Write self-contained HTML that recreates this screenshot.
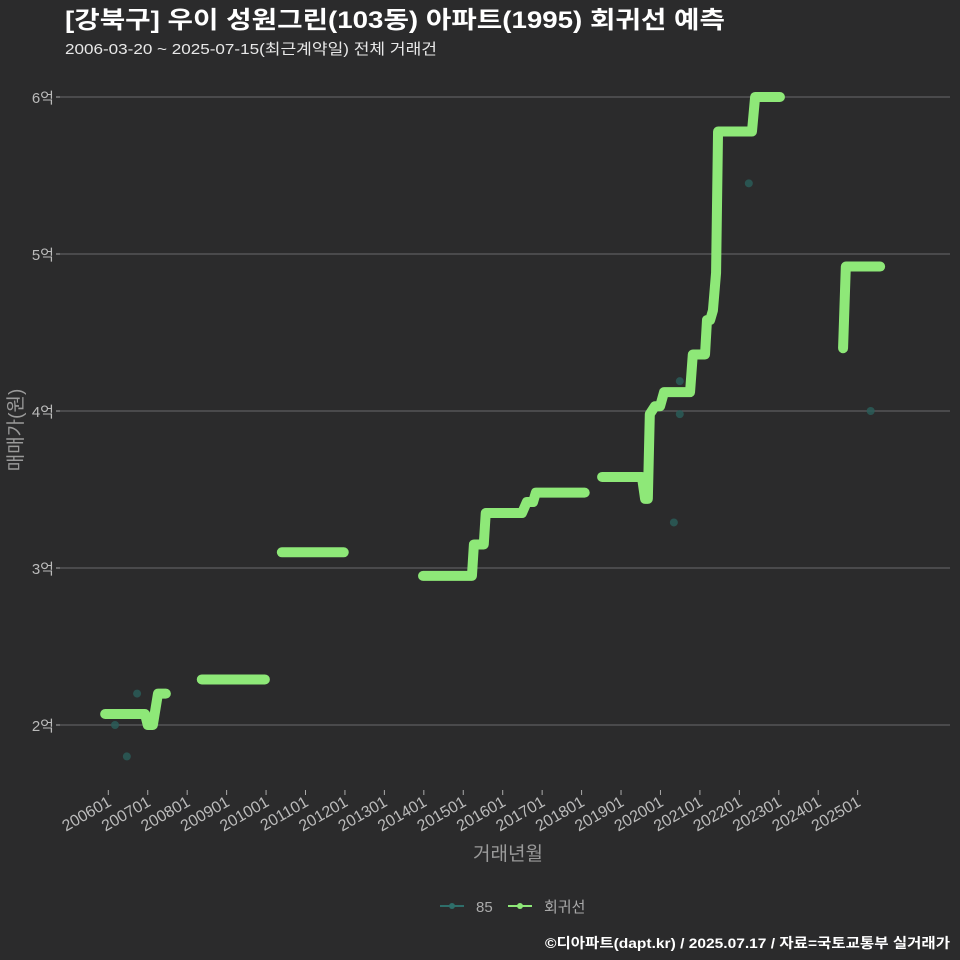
<!DOCTYPE html>
<html><head><meta charset="utf-8">
<style>
html,body{margin:0;padding:0;background:#2b2b2c;}
svg{display:block;font-family:"Liberation Sans","Noto Sans CJK KR",sans-serif;}
</style></head>
<body>
<svg id="chart" width="960" height="960" viewBox="0 0 960 960">
<rect width="960" height="960" fill="#2b2b2c"/>
<text x="65" y="28" fill="#ffffff" font-size="24" font-weight="bold" textLength="660" lengthAdjust="spacingAndGlyphs">[강북구] 우이 성원그린(103동) 아파트(1995) 회귀선 예측</text>
<text x="65" y="54" fill="#e8e8e8" font-size="15" textLength="372" lengthAdjust="spacingAndGlyphs">2006-03-20 ~ 2025-07-15(최근계약일) 전체 거래건</text>
<g id="grid"></g>
<g id="xaxis"></g>
<g id="dots"></g>
<g id="lines"></g>
<text transform="translate(22,430) rotate(-90)" text-anchor="middle" fill="#9a9a9a" font-size="19">매매가(원)</text>
<text x="508" y="860" text-anchor="middle" fill="#9a9a9a" font-size="19">거래년월</text>
<g>
<g>
<line x1="440" y1="906" x2="464" y2="906" stroke="#2e6e6a" stroke-width="2"/>
<circle cx="452" cy="906" r="3" fill="#2e6e6a"/>
<text x="476" y="912" fill="#aaaaaa" font-size="15">85</text></g>
<g>
<line x1="508" y1="906" x2="532" y2="906" stroke="#8ee878" stroke-width="2"/>
<circle cx="520" cy="906" r="3" fill="#8ee878"/>
<text x="544" y="912" fill="#aaaaaa" font-size="15">회귀선</text></g>
</g>
<text x="950" y="948" text-anchor="end" fill="#ffffff" font-size="14" font-weight="bold" textLength="405" lengthAdjust="spacingAndGlyphs">©디아파트(dapt.kr) / 2025.07.17 / 자료=국토교통부 실거래가</text>
</svg>
<script>
const yTicks=[2,3,4,5,6];
const yTickLabels=["2억","3억","4억","5억","6억"];
const xTickYears=[2006,2007,2008,2009,2010,2011,2012,2013,2014,2015,2016,2017,2018,2019,2020,2021,2022,2023,2024,2025];
const xTickLabels=["200601","200701","200801","200901","201001","201101","201201","201301","201401","201501","201601","201701","201801","201901","202001","202101","202201","202301","202401","202501"];
// regression segments: [year, value(억)]
const seg1=[[2005.92,2.07],[2006.93,2.07],[2007.0,2.0],[2007.13,2.0],[2007.26,2.2],[2007.46,2.2]];
const seg2=[[2008.37,2.29],[2009.97,2.29]];
const seg3=[[2010.4,3.1],[2011.97,3.1]];
const seg4=[[2013.98,2.95],[2015.22,2.95],[2015.27,3.15],[2015.52,3.15],[2015.57,3.35],[2016.49,3.35],[2016.61,3.42],[2016.77,3.42],[2016.84,3.48],[2018.08,3.48]];
const seg5=[[2018.52,3.58],[2019.53,3.58],[2019.61,3.44],[2019.68,3.44],[2019.73,3.98],[2019.86,4.03],[2019.99,4.03],[2020.09,4.12],[2020.75,4.12],[2020.82,4.36],[2021.13,4.36],[2021.18,4.58],[2021.26,4.58],[2021.33,4.64],[2021.41,4.88],[2021.46,5.78],[2022.32,5.78],[2022.4,6.0],[2023.03,6.0]];
const seg6=[[2024.63,4.4],[2024.7,4.92],[2025.57,4.92]];
const segments=[seg1,seg2,seg3,seg4,seg5,seg6];
const dotYears=[2006.17,2006.47,2006.73,2020.34,2020.49,2020.49,2022.24,2025.33];
const dotValues=[2.0,1.8,2.2,3.29,4.19,3.98,5.45,4.0];

const NS="http://www.w3.org/2000/svg";
function X(yr){return 108.3+(yr-2006)*39.44;}
function Y(v){return 725-(v-2)*157;}
function mk(tag,attrs,parent){const e=document.createElementNS(NS,tag);for(const k in attrs)e.setAttribute(k,attrs[k]);parent.appendChild(e);return e;}
const grid=document.getElementById('grid');
yTicks.forEach((v,i)=>{
  const l=mk('line',{x1:60,x2:950,y1:Y(v),y2:Y(v),stroke:'#5e5e60','stroke-width':1.2},grid);
  
  
  const t=mk('line',{x1:56,x2:60,y1:Y(v),y2:Y(v),stroke:'#aaaaaa'},grid);
  
  
  const tx=mk('text',{x:54,y:Y(v)+6,'text-anchor':'end',fill:'#bbbbbb','font-size':15},grid);
  tx.textContent=yTickLabels[i];
  
  
});
const xa=document.getElementById('xaxis');
xTickYears.forEach((yr,i)=>{
  const x=X(yr);
  const t=mk('line',{x1:x,x2:x,y1:790,y2:795,stroke:'#aaaaaa'},xa);
  
  
  const tx=mk('text',{x:x+4,y:805,'text-anchor':'end',fill:'#bbbbbb','font-size':16,transform:`rotate(-30 ${x+4} 805)`},xa);
  tx.textContent=xTickLabels[i];
  
  
});
const dg=document.getElementById('dots');
dotYears.forEach((yr,i)=>{
  const c=mk('circle',{cx:X(yr),cy:Y(dotValues[i]),r:4,fill:'#2a5c58','fill-opacity':0.85},dg);
  
  
});
const lg=document.getElementById('lines');
segments.forEach(s=>{
  const p=mk('polyline',{points:s.map(d=>X(d[0])+','+Y(d[1])).join(' '),fill:'none',stroke:'#8ee878','stroke-width':10,'stroke-linecap':'round','stroke-linejoin':'round'},lg);
  
  
});
</script>
</body></html>
